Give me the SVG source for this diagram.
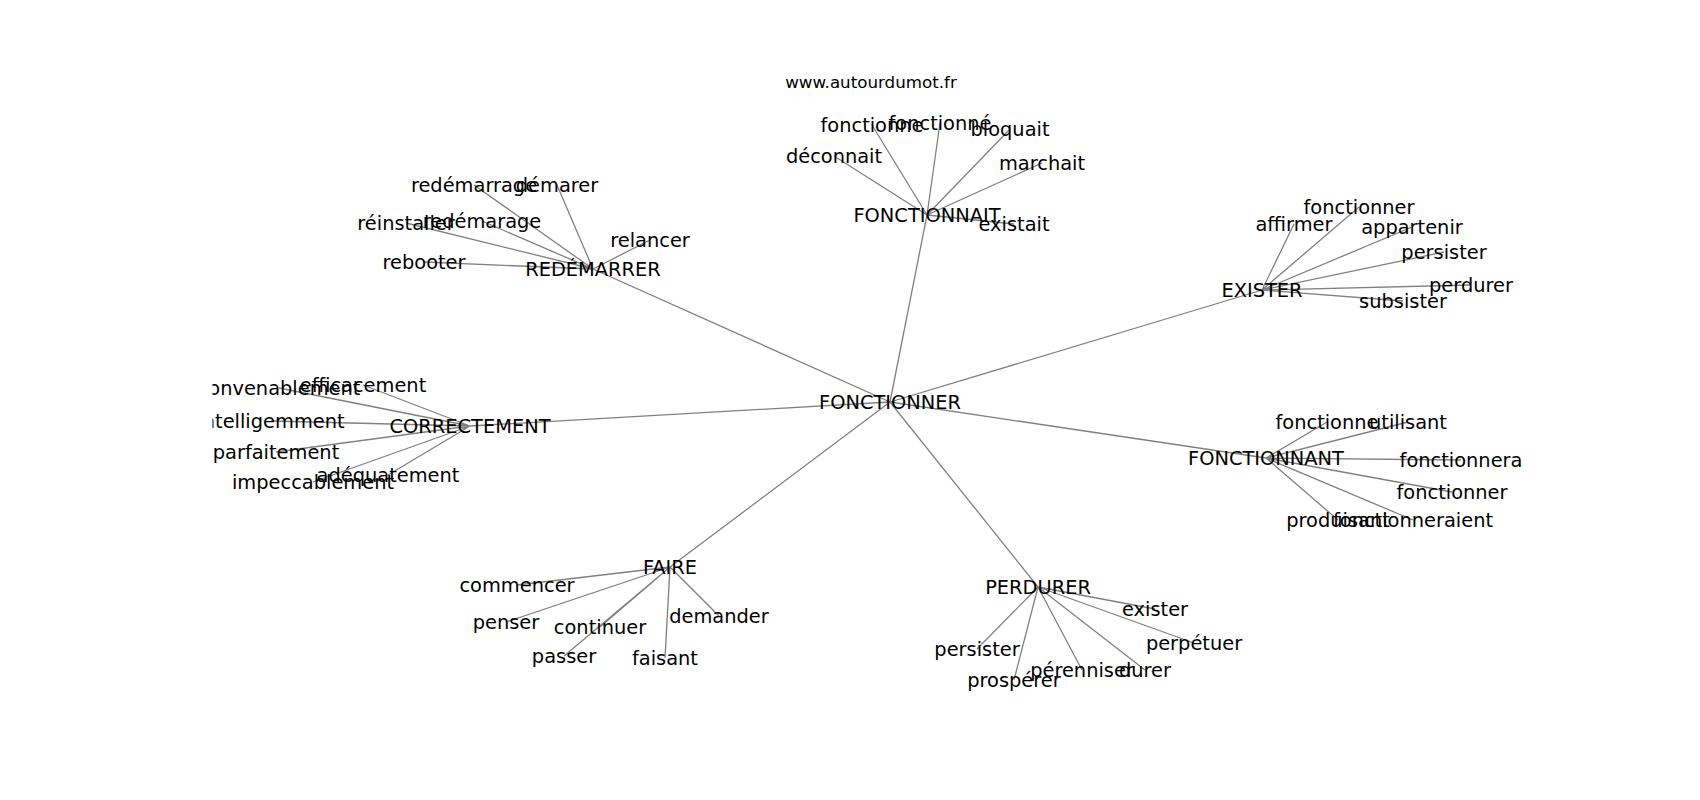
<svg xmlns="http://www.w3.org/2000/svg" width="1700" height="800" viewBox="0 0 1700 800">
<style>
.e{stroke:#808080;stroke-width:1.3;fill:none}
.n text{font-family:"DejaVu Sans","Liberation Sans",sans-serif;font-size:19.4px;fill:#000;text-anchor:middle}
.t{font-family:"DejaVu Sans","Liberation Sans",sans-serif;font-size:16.7px;fill:#000;text-anchor:middle}
</style>
<defs><clipPath id="ax"><rect x="212.5" y="96" width="1317.5" height="616"/></clipPath></defs>
<rect width="1700" height="800" fill="#fff"/>
<text class="t" x="871" y="88">www.autourdumot.fr</text>
<g id="connectors" class="e" clip-path="url(#ax)">
<path d="M890 402L593 269M890 402L927 215M890 402L1262 290M890 402L1266 458M890 402L1038 587M890 402L670 567M890 402L470 426"/>
<path d="M593 269L474 185M593 269L557 185M593 269L406 223M593 269L482 221M593 269L424 262M593 269L650 240"/>
<path d="M927 215L872 125M927 215L940 123M927 215L1010 129M927 215L834 156M927 215L1042 163M927 215L1014 224"/>
<path d="M1262 290L1359 207M1262 290L1294 224M1262 290L1412 227M1262 290L1444 252M1262 290L1471 285M1262 290L1403 301"/>
<path d="M1266 458L1327 422M1266 458L1408 422M1266 458L1461 460M1266 458L1452 492M1266 458L1338 520M1266 458L1413 520"/>
<path d="M1038 587L1155 609M1038 587L1194 643M1038 587L977 649M1038 587L1082 670M1038 587L1145 670M1038 587L1014 680"/>
<path d="M670 567L517 585M670 567L506 622M670 567L600 627M670 567L719 616M670 567L564 656M670 567L665 658"/>
<path d="M470 426L279 388M470 426L363 385M470 426L271 421M470 426L276 452M470 426L388 475M470 426L313 482"/>
</g>
<g class="n" clip-path="url(#ax)">
<g id="n-fonctionner"><text x="890" y="409">FONCTIONNER</text></g>
<g id="n-redemarrer"><text x="593" y="276">REDÉMARRER</text></g>
<g id="n-redemarrage"><text x="474" y="192">redémarrage</text></g>
<g id="n-demarer"><text x="557" y="192">démarer</text></g>
<g id="n-reinstaller"><text x="406" y="230">réinstaller</text></g>
<g id="n-redemarage"><text x="482" y="228">redémarage</text></g>
<g id="n-rebooter"><text x="424" y="269">rebooter</text></g>
<g id="n-relancer"><text x="650" y="247">relancer</text></g>
<g id="n-fonctionnait"><text x="927" y="222">FONCTIONNAIT</text></g>
<g id="n-fonctionne1"><text x="872" y="132">fonctionne</text></g>
<g id="n-fonctionne-acc"><text x="940" y="130">fonctionné</text></g>
<g id="n-bloquait"><text x="1010" y="136">bloquait</text></g>
<g id="n-deconnait"><text x="834" y="163">déconnait</text></g>
<g id="n-marchait"><text x="1042" y="170">marchait</text></g>
<g id="n-existait"><text x="1014" y="231">existait</text></g>
<g id="n-exister"><text x="1262" y="297">EXISTER</text></g>
<g id="n-fonctionner1"><text x="1359" y="214">fonctionner</text></g>
<g id="n-affirmer"><text x="1294" y="231">affirmer</text></g>
<g id="n-appartenir"><text x="1412" y="234">appartenir</text></g>
<g id="n-persister1"><text x="1444" y="259">persister</text></g>
<g id="n-perdurer1"><text x="1471" y="292">perdurer</text></g>
<g id="n-subsister"><text x="1403" y="308">subsister</text></g>
<g id="n-fonctionnant"><text x="1266" y="465">FONCTIONNANT</text></g>
<g id="n-fonctionne2"><text x="1327" y="429">fonctionne</text></g>
<g id="n-utilisant"><text x="1408" y="429">utilisant</text></g>
<g id="n-fonctionnera"><text x="1461" y="467">fonctionnera</text></g>
<g id="n-fonctionner2"><text x="1452" y="499">fonctionner</text></g>
<g id="n-produisant"><text x="1338" y="527">produisant</text></g>
<g id="n-fonctionneraient"><text x="1413" y="527">fonctionneraient</text></g>
<g id="n-perdurer"><text x="1038" y="594">PERDURER</text></g>
<g id="n-exister2"><text x="1155" y="616">exister</text></g>
<g id="n-perpetuer"><text x="1194" y="650">perpétuer</text></g>
<g id="n-persister2"><text x="977" y="656">persister</text></g>
<g id="n-perenniser"><text x="1082" y="677">pérenniser</text></g>
<g id="n-durer"><text x="1145" y="677">durer</text></g>
<g id="n-prosperer"><text x="1014" y="687">prospérer</text></g>
<g id="n-faire"><text x="670" y="574">FAIRE</text></g>
<g id="n-commencer"><text x="517" y="592">commencer</text></g>
<g id="n-penser"><text x="506" y="629">penser</text></g>
<g id="n-continuer"><text x="600" y="634">continuer</text></g>
<g id="n-demander"><text x="719" y="623">demander</text></g>
<g id="n-passer"><text x="564" y="663">passer</text></g>
<g id="n-faisant"><text x="665" y="665">faisant</text></g>
<g id="n-correctement"><text x="470" y="433">CORRECTEMENT</text></g>
<g id="n-convenablement"><text x="279" y="395">convenablement</text></g>
<g id="n-efficacement"><text x="363" y="392">efficacement</text></g>
<g id="n-intelligemment"><text x="271" y="428">intelligemment</text></g>
<g id="n-parfaitement"><text x="276" y="459">parfaitement</text></g>
<g id="n-adequatement"><text x="388" y="482">adéquatement</text></g>
<g id="n-impeccablement"><text x="313" y="489">impeccablement</text></g>
</g>
</svg>
